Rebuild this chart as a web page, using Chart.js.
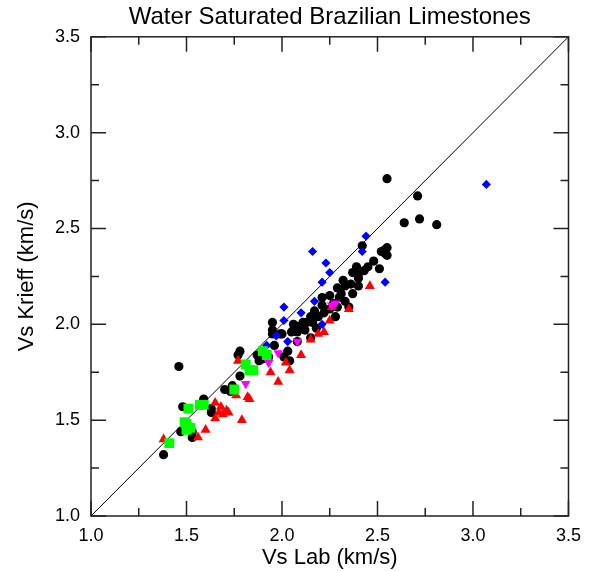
<!DOCTYPE html>
<html>
<head>
<meta charset="utf-8">
<script src="https://cdn.jsdelivr.net/npm/chart.js@4"></script>
<style>
  html, body { margin: 0; padding: 0; background: #fff; }
  #wrap { width: 590px; height: 571px; }
</style>
</head>
<body>
<div id="wrap"><canvas id="canvas" width="590" height="571"></canvas></div>
<script>
// Vs mesurée au labo (x) et Vs prédite par Krief (y), km/s
const blackLab = [2.55, 2.71, 2.64, 2.72, 2.81, 2.42, 2.54, 2.55, 2.54, 2.52, 2.55, 2.48, 2.51, 2.39, 2.43, 2.37, 2.40,
  2.40, 2.36, 2.33, 2.40, 2.29, 2.31, 2.37, 2.21, 2.25, 2.30, 2.21, 2.29, 2.35, 2.28, 2.25, 2.19, 2.15, 2.13, 2.16,
  2.11, 2.06, 2.05, 2.08, 2.12, 2.18, 1.95, 1.95, 1.96, 2.08, 2.15, 1.95, 2.06, 2.08, 2.03, 2.04, 1.88, 1.87, 2.01,
  1.78, 1.77, 1.46, 1.78, 1.74, 1.70, 1.73, 1.59, 1.48, 1.63, 1.63, 1.53, 1.47, 1.53, 1.38, 1.99, 2.10,
  2.33, 2.27, 2.22, 2.17, 2.45, 2.32, 2.00, 1.90, 1.93];
const blackKrief = [2.76, 2.67, 2.53, 2.55, 2.52, 2.41, 2.39, 2.40, 2.37, 2.38, 2.36, 2.33, 2.29, 2.30, 2.28, 2.27, 2.26,
  2.24, 2.21, 2.20, 2.20, 2.19, 2.16, 2.16, 2.14, 2.15, 2.14, 2.10, 2.09, 2.09, 2.04, 2.08, 2.04, 2.04, 2.01, 2.01,
  2.01, 2.00, 1.96, 1.96, 1.97, 1.98, 2.01, 1.97, 1.89, 1.91, 1.93, 1.95, 1.97, 1.99, 1.86, 1.81, 1.81, 1.84, 1.83,
  1.86, 1.84, 1.78, 1.73, 1.68, 1.66, 1.65, 1.61, 1.57, 1.56, 1.54, 1.41, 1.44, 1.44, 1.32, 1.95, 1.99,
  2.12, 2.11, 2.06, 2.07, 2.30, 2.23, 1.95, 1.82, 1.83];

const redLab = [2.46, 2.35, 2.25, 2.26, 2.22, 2.19, 2.15, 1.77, 1.94, 1.98, 2.04, 2.02, 2.10, 1.76, 1.82, 1.83,
  1.65, 1.68, 1.71, 1.67, 1.72, 1.65, 1.79, 1.60, 1.56, 1.38, 1.69];
const redKrief = [2.20, 2.08, 2.02, 2.09, 1.96, 1.95, 1.92, 1.81, 1.75, 1.70, 1.76, 1.80, 1.84, 1.63, 1.62, 1.61,
  1.59, 1.57, 1.55, 1.54, 1.54, 1.51, 1.50, 1.45, 1.41, 1.40, 1.53];

const blueLab = [3.07, 2.44, 2.42, 2.16, 2.23, 2.25, 2.54, 2.21, 2.01, 2.01, 2.10, 2.17, 2.21, 1.97, 2.03, 1.92];
const blueKrief = [2.73, 2.46, 2.38, 2.38, 2.32, 2.27, 2.22, 2.22, 2.09, 2.02, 2.06, 2.12, 2.00, 1.94, 1.91, 1.89];

const magentaLab = [2.26, 2.28, 2.08, 1.98, 1.93, 1.81];
const magentaKrief = [2.10, 2.11, 1.91, 1.85, 1.80, 1.69];

const greenLab = [1.81, 1.85, 1.83, 1.90, 1.92, 1.75, 1.57, 1.59, 1.51, 1.49, 1.50, 1.50, 1.52, 1.41];
const greenKrief = [1.79, 1.76, 1.76, 1.86, 1.84, 1.66, 1.58, 1.58, 1.56, 1.49, 1.48, 1.45, 1.46, 1.38];

const axisMin = 1.0;
const axisMax = 3.5;

function toPoints(xs, ys) {
    let pts = [];
    for (let i = 0; i < xs.length; i++) {
        pts.push({x: xs[i], y: ys[i]});
    }
    return pts;
}

// cadre + graduations vers l'intérieur sur les 4 côtés
const framePlugin = {
    id: 'frame',
    afterDraw(chart) {
        const ctx = chart.ctx;
        const xs = chart.scales.x;
        const ys = chart.scales.y;
        const a = chart.chartArea;
        ctx.save();
        ctx.strokeStyle = '#222';
        ctx.lineWidth = 1.5;
        ctx.strokeRect(a.left, a.top, a.right - a.left, a.bottom - a.top);
        ctx.beginPath();
        for (let v = axisMin; v <= axisMax + 1e-9; v += 0.25) {
            const major = Math.abs(v * 2 - Math.round(v * 2)) < 1e-6;
            const len = major ? 15 : 8;
            const px = xs.getPixelForValue(v);
            const py = ys.getPixelForValue(v);
            ctx.moveTo(px, a.bottom); ctx.lineTo(px, a.bottom - len);
            ctx.moveTo(px, a.top); ctx.lineTo(px, a.top + len);
            ctx.moveTo(a.left, py); ctx.lineTo(a.left + len, py);
            ctx.moveTo(a.right, py); ctx.lineTo(a.right - len, py);
        }
        ctx.stroke();
        ctx.restore();
    }
};

const font = 'Liberation Sans, Arial, Helvetica, sans-serif';

const config = {
    type: 'scatter',
    data: {
        datasets: [
            {
                label: 'green',
                data: toPoints(greenLab, greenKrief),
                pointStyle: 'rect',
                pointRadius: 7,
                backgroundColor: '#00ff00',
                borderWidth: 0,
                order: 0
            },
            {
                label: 'magenta',
                data: toPoints(magentaLab, magentaKrief),
                pointStyle: 'triangle',
                rotation: 180,
                pointRadius: 5.5,
                backgroundColor: '#ff00ff',
                borderWidth: 0,
                order: 1
            },
            {
                label: 'blue',
                data: toPoints(blueLab, blueKrief),
                pointStyle: 'rectRot',
                pointRadius: 4.6,
                backgroundColor: '#0000ff',
                borderWidth: 0,
                order: 2
            },
            {
                label: 'red',
                data: toPoints(redLab, redKrief),
                pointStyle: 'triangle',
                pointRadius: 5.8,
                backgroundColor: '#ff0000',
                borderWidth: 0,
                order: 3
            },
            {
                label: 'black',
                data: toPoints(blackLab, blackKrief),
                pointStyle: 'circle',
                pointRadius: 4.6,
                backgroundColor: '#000000',
                borderWidth: 0,
                order: 4
            },
            {
                // droite 1:1
                type: 'line',
                label: '1:1',
                data: [{x: axisMin, y: axisMin}, {x: axisMax, y: axisMax}],
                borderColor: '#000',
                borderWidth: 1,
                pointRadius: 0,
                fill: false,
                order: 5
            }
        ]
    },
    options: {
        responsive: false,
        animation: false,
        layout: {padding: {left: 0, right: 21, top: 0, bottom: 0}},
        plugins: {
            legend: {display: false},
            tooltip: {enabled: false},
            title: {
                display: true,
                fullSize: false,
                text: 'Water Saturated Brazilian Limestones',
                color: '#000',
                font: {family: font, size: 24, weight: 'normal'},
                padding: {top: 3, bottom: 5}
            }
        },
        scales: {
            x: {
                type: 'linear',
                min: axisMin,
                max: axisMax,
                grid: {display: false, drawTicks: false},
                border: {display: false},
                afterFit: function(scale) { scale.height = 55; },
                ticks: {
                    stepSize: 0.5,
                    color: '#000',
                    padding: 9,
                    maxRotation: 0,
                    font: {family: font, size: 18},
                    callback: function(v) { return v.toFixed(1); }
                },
                title: {
                    display: true,
                    text: 'Vs Lab (km/s)',
                    color: '#000',
                    font: {family: font, size: 22},
                    padding: {top: 0, bottom: 0}
                }
            },
            y: {
                type: 'linear',
                min: axisMin,
                max: axisMax,
                grid: {display: false, drawTicks: false},
                border: {display: false},
                afterFit: function(scale) { scale.width = 91; },
                ticks: {
                    stepSize: 0.5,
                    color: '#000',
                    padding: 11,
                    font: {family: font, size: 18},
                    callback: function(v) { return v.toFixed(1); }
                },
                title: {
                    display: true,
                    text: 'Vs Krieff (km/s)',
                    color: '#000',
                    font: {family: font, size: 22},
                    padding: {top: 14, bottom: 0}
                }
            }
        }
    },
    plugins: [framePlugin]
};

new Chart(document.getElementById('canvas'), config);
</script>
</body>
</html>
